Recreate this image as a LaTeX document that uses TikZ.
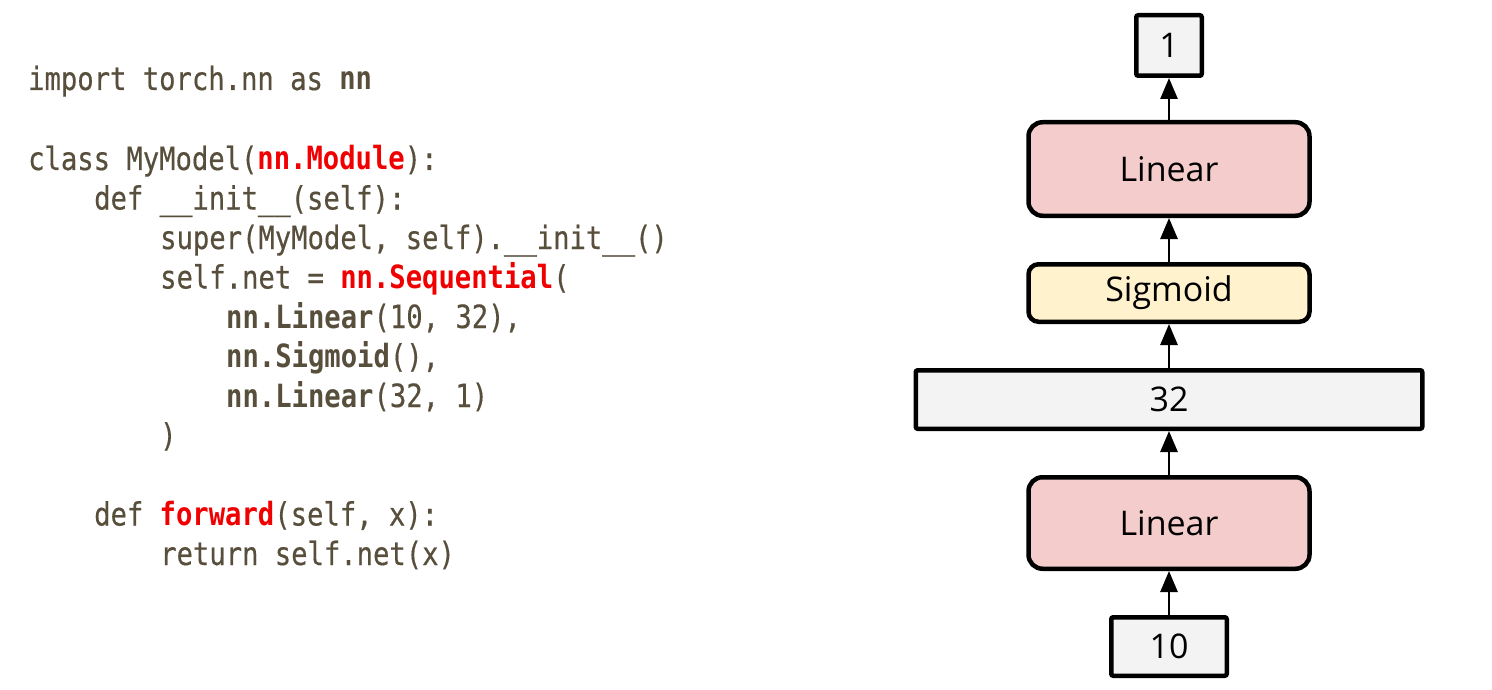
\documentclass[tikz,border=0pt]{standalone}
\usepackage{fontspec}
\usepackage{xcolor}
\usepackage{tikz}
\usetikzlibrary{arrows.meta}
\setmainfont{Open Sans}
\newfontfamily\codefont[FakeStretch=0.85, UprightFeatures={FakeBold=0.4}]{DejaVu Sans Mono}
\definecolor{codebrown}{HTML}{584E3C}
\definecolor{codered}{HTML}{F00000}
\definecolor{linfill}{HTML}{F4CCCC}
\definecolor{sigfill}{HTML}{FFF2CC}
\definecolor{vecfill}{HTML}{F3F3F3}

\begin{document}
\begin{tikzpicture}[x=1pt, y=-1pt,
  code/.style={anchor=base west, inner sep=0pt, text=codebrown,
    font=\codefont\fontsize{32}{32}\selectfont},
  layer/.style={draw, line width=4.5pt, rounded corners=14pt, fill=linfill,
    inner sep=0pt, font=\fontsize{34}{34}\selectfont},
  vec/.style={draw, line width=4.5pt, rounded corners=2pt, fill=vecfill,
    inner sep=0pt, font=\fontsize{34}{34}\selectfont},
  flow/.style={-{Triangle[length=21pt, width=17pt]}, line width=2.7pt}]
\newcommand{\Colx}{1169} % centre of the network column
\newcommand{\Layw}{281pt} % width of a layer box

\useasboundingbox (0, 0) rectangle (1492, 690);

% code
\node[code] (imp)  at (28, 90)    {import torch.nn as \textbf{nn}};
\node[code] (cls)  at (28, 170)   {class MyModel(\textbf{\color{codered}nn.Module}):};
\node[code] (init) at (94, 209.5) {def \_\_init\_\_(self):};
\node[code] (sup)  at (160, 249)  {super(MyModel, self).\_\_init\_\_()};
\node[code] (seq)  at (160, 288.5) {self.net = \textbf{\color{codered}nn.Sequential}(};
\node[code] (lina) at (226, 328)  {\textbf{nn.Linear}(10, 32),};
\node[code] (sigc) at (226, 367.5) {\textbf{nn.Sigmoid}(),};
\node[code] (linb) at (226, 407)  {\textbf{nn.Linear}(32, 1)};
\node[code] (cend) at (160, 446.5) {)};
\node[code] (fwd)  at (94, 525.5) {def \textbf{\color{codered}forward}(self, x):};
\node[code] (ret)  at (160, 565)  {return self.net(x)};

% network
\node[vec, minimum width=115.5pt, minimum height=58.5pt] (in)  at (\Colx, 646.5) {10};
\node[layer, minimum width=\Layw, minimum height=91.5pt] (fc1) at (\Colx, 523) {Linear};
\node[vec, minimum width=506.5pt, minimum height=58.5pt] (hid) at (\Colx, 399.5) {32};
\node[layer, fill=sigfill, rounded corners=10pt, minimum width=\Layw,
  minimum height=57.5pt] (sig) at (\Colx, 293) {Sigmoid};
\node[layer, minimum width=\Layw, minimum height=93.5pt] (fc2) at (\Colx, 169) {Linear};
\node[vec, minimum width=65.5pt, minimum height=60.5pt] (out) at (\Colx, 45.5) {1};

\draw[flow] (in.north)  -- (fc1.south);
\draw[flow] (fc1.north) -- (hid.south);
\draw[flow] (hid.north) -- (sig.south);
\draw[flow] (sig.north) -- (fc2.south);
\draw[flow] (fc2.north) -- (out.south);
\end{tikzpicture}
\end{document}
